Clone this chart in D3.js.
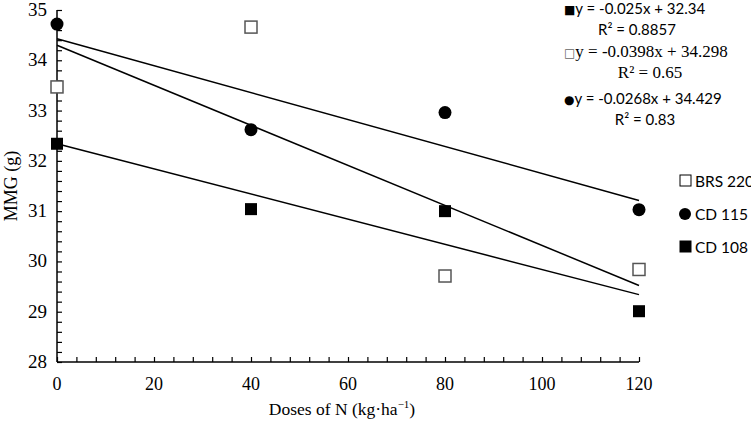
<!DOCTYPE html>
<html>
<head>
<meta charset="utf-8">
<script src="https://cdn.jsdelivr.net/npm/d3@7"></script>
<style>
  body { margin: 0; background: #fff; }
  svg { display: block; }
  .serif { font-family: "Liberation Serif", "Times New Roman", serif; }
  .sans { font-family: Lato, "Liberation Sans", sans-serif; }
</style>
</head>
<body>
<svg id="chart" width="751" height="422"></svg>
<script>
// doses of N (kg/ha)
const doses = [0, 40, 80, 120];
const brs220 = [33.47, 34.66, 29.71, 29.84];
const cd115 = [34.72, 32.62, 32.96, 31.03];
const cd108 = [32.34, 31.04, 31.0, 29.01];

// fitted lines as printed on the chart
const fits = [
    { name: "BRS 220", slope: -0.0398, intercept: 34.298 },
    { name: "CD 115", slope: -0.0268, intercept: 34.429 },
    { name: "CD 108", slope: -0.025, intercept: 32.34 }
];
const equations = [
    { sym: "■", eq: "y = -0.025x + 32.34", r2: "R² = 0.8857", font: "sans" },
    { sym: "□", eq: "y = -0.0398x + 34.298", r2: "R² = 0.65", font: "serif" },
    { sym: "●", eq: "y = -0.0268x + 34.429", r2: "R² = 0.83", font: "sans" }
];

const yTicks = [28, 29, 30, 31, 32, 33, 34, 35];
const xTicks = [0, 20, 40, 60, 80, 100, 120];

const svg = d3.select("#chart");
const margin = { top: 10, left: 57, right: 112, bottom: 60 };
const W = 751, H = 422;

const x = d3.scaleLinear().domain([0, 120]).range([margin.left, W - margin.right]);
const y = d3.scaleLinear().domain([28, 35]).range([H - margin.bottom, margin.top]);

// minor ticks every 4 on x, every 0.2 on y, pointing inside
svg.append("g")
    .attr("transform", `translate(0,${y(28)})`)
    .call(d3.axisBottom(x).tickValues(d3.range(0, 121, 4)).tickSize(-5).tickFormat(""))
    .call(g => g.select(".domain").remove())
    .call(g => g.selectAll("line").attr("stroke", "#000").attr("stroke-width", 1.2));
svg.append("g")
    .attr("transform", `translate(${x(0)},0)`)
    .call(d3.axisLeft(y).tickValues(d3.range(28, 35.01, 0.2)).tickSize(-5).tickFormat(""))
    .call(g => g.select(".domain").remove())
    .call(g => g.selectAll("line").attr("stroke", "#000").attr("stroke-width", 1.2));

// axis lines
svg.append("line").attr("x1", x(0)).attr("x2", x(120)).attr("y1", y(28)).attr("y2", y(28))
    .attr("stroke", "#000").attr("stroke-width", 1.5);
svg.append("line").attr("x1", x(0)).attr("x2", x(0)).attr("y1", y(28)).attr("y2", y(35))
    .attr("stroke", "#000").attr("stroke-width", 1.5);

// tick labels
svg.selectAll(".xl").data(xTicks).join("text")
    .attr("class", "serif")
    .attr("x", d => x(d)).attr("y", y(28) + 28)
    .attr("text-anchor", "middle").attr("font-size", 18)
    .text(d => d);
svg.selectAll(".yl").data(yTicks).join("text")
    .attr("class", "serif")
    .attr("x", x(0) - 10).attr("y", d => y(d) + 6)
    .attr("text-anchor", "end").attr("font-size", 19)
    .text(d => d);

// axis titles
svg.append("text").attr("class", "serif")
    .attr("x", 342).attr("y", 415).attr("text-anchor", "middle").attr("font-size", 17.5)
    .html("Doses of N (kg·ha<tspan dy='-7' font-size='11'>−1</tspan><tspan dy='7'>)</tspan>");
svg.append("text").attr("class", "serif")
    .attr("transform", `translate(17,${(y(28) + y(35)) / 2}) rotate(-90)`)
    .attr("text-anchor", "middle").attr("font-size", 18)
    .text("MMG (g)");

// trend lines
svg.selectAll(".fit").data(fits).join("line")
    .attr("x1", x(0)).attr("x2", x(120))
    .attr("y1", d => y(d.intercept))
    .attr("y2", d => y(d.intercept + d.slope * 120))
    .attr("stroke", "#000").attr("stroke-width", 1.5);

// markers
const sq = 12;
svg.selectAll(".brs").data(doses).join("rect")
    .attr("x", (d) => x(d) - sq / 2)
    .attr("y", (d, i) => y(brs220[i]) - sq / 2)
    .attr("width", sq).attr("height", sq)
    .attr("fill", "#fff").attr("stroke", "#555").attr("stroke-width", 1.5);
svg.selectAll(".cd108").data(doses).join("rect")
    .attr("x", (d) => x(d) - sq / 2)
    .attr("y", (d, i) => y(cd108[i]) - sq / 2)
    .attr("width", sq).attr("height", sq)
    .attr("fill", "#000");
svg.selectAll(".cd115").data(doses).join("circle")
    .attr("cx", (d) => x(d))
    .attr("cy", (d, i) => y(cd115[i]))
    .attr("r", 6.5)
    .attr("fill", "#000");

// equations
const eqG = svg.append("g");
equations.forEach((e, i) => {
    const base = [14, 57, 104][i];
    const fs = e.font === "serif" ? 17 : 15;
    const t = eqG.append("text").attr("class", e.font)
        .attr("x", 564).attr("y", base).attr("font-size", fs);
    t.append("tspan").attr("font-family", "DejaVu Sans").attr("font-size", 12)
        .attr("fill", e.sym === "□" ? "#666" : "#000").text(e.sym);
    t.append("tspan").text(e.eq);
    eqG.append("text").attr("class", e.font)
        .attr("x", [637, 650, 645][i]).attr("y", base + 21).attr("text-anchor", "middle").attr("font-size", fs)
        .text(e.r2);
});

// legend
const legend = [
    { name: "BRS 220", type: "open" },
    { name: "CD 115", type: "circle" },
    { name: "CD 108", type: "square" }
];
legend.forEach((l, i) => {
    const ly = [181, 214, 247][i];
    if (l.type === "circle") {
        svg.append("circle").attr("cx", 685).attr("cy", ly).attr("r", 6).attr("fill", "#000");
    } else {
        svg.append("rect").attr("x", 680).attr("y", ly - 6).attr("width", 11).attr("height", 11)
            .attr("fill", l.type === "open" ? "#fff" : "#000")
            .attr("stroke", "#000").attr("stroke-width", 1);
    }
    svg.append("text").attr("class", "sans")
        .attr("x", 695).attr("y", ly + 5.5).attr("font-size", 15.5)
        .text(l.name);
});
</script>
</body>
</html>
